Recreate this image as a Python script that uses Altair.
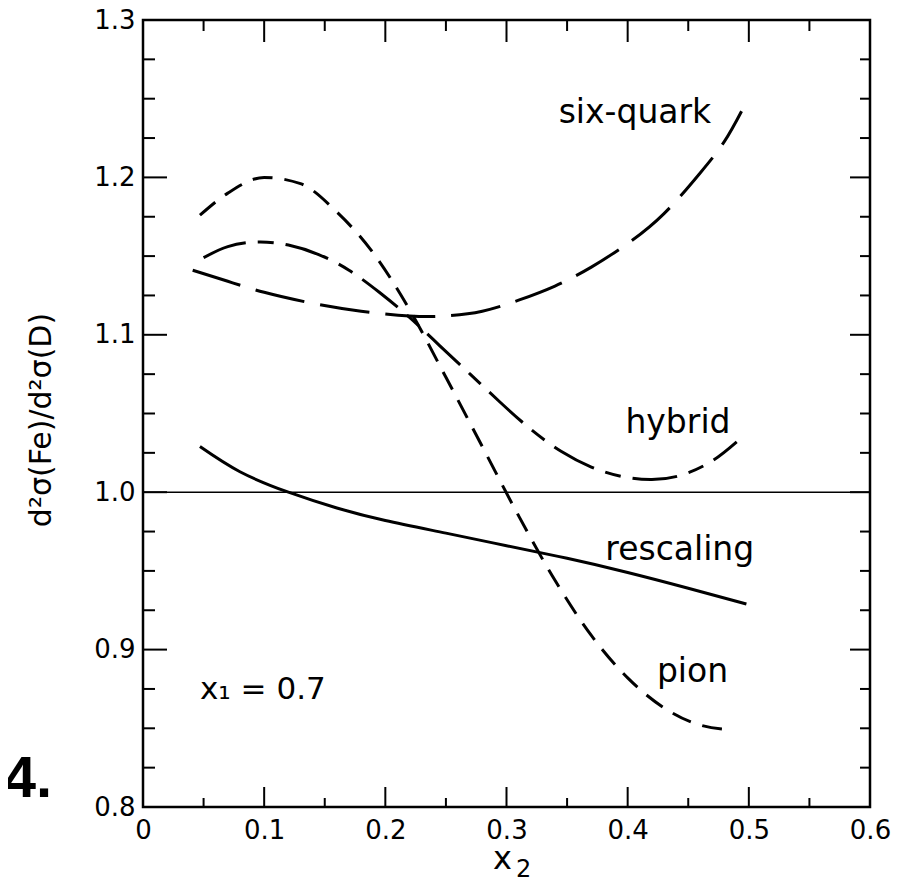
import altair as alt
import pandas as pd

# ---- data ----
six_x = [0.041, 0.07, 0.10, 0.14, 0.18, 0.22, 0.25, 0.28, 0.31, 0.34, 0.37, 0.40, 0.43, 0.46, 0.48, 0.494]
six_y = [1.141, 1.134, 1.127, 1.120, 1.115, 1.112, 1.112, 1.115, 1.122, 1.131, 1.143, 1.158, 1.177, 1.203, 1.223, 1.242]

hyb_x = [0.05, 0.07, 0.095, 0.12, 0.145, 0.17, 0.195, 0.22, 0.245, 0.27, 0.295, 0.32, 0.345, 0.37, 0.395, 0.42, 0.445, 0.47, 0.49]
hyb_y = [1.149, 1.156, 1.159, 1.157, 1.151, 1.141, 1.127, 1.111, 1.093, 1.075, 1.057, 1.040, 1.026, 1.016, 1.010, 1.008, 1.011, 1.020, 1.032]

pion_x = [0.047, 0.07, 0.10, 0.13, 0.16, 0.19, 0.22, 0.25, 0.28, 0.31, 0.34, 0.37, 0.40, 0.43, 0.46, 0.487]
pion_y = [1.176, 1.190, 1.200, 1.196, 1.178, 1.152, 1.116, 1.073, 1.029, 0.985, 0.944, 0.909, 0.882, 0.863, 0.852, 0.849]

resc_x = [0.047, 0.08, 0.12, 0.16, 0.20, 0.25, 0.30, 0.35, 0.40, 0.45, 0.498]
resc_y = [1.029, 1.013, 1.000, 0.990, 0.982, 0.974, 0.966, 0.958, 0.949, 0.939, 0.929]

reference_line = [1.0]

x_label_vals = [0, 0.1, 0.2, 0.3, 0.4, 0.5, 0.6]
x_minor_vals = [0.05, 0.15, 0.25, 0.35, 0.45, 0.55]
y_label_vals = [0.8, 0.9, 1.0, 1.1, 1.2, 1.3]
y_minor_vals = [0.825, 0.85, 0.875, 0.925, 0.95, 0.975, 1.025, 1.05, 1.075,
                1.125, 1.15, 1.175, 1.225, 1.25, 1.275]

curve_labels = ["six-quark", "hybrid", "rescaling", "pion"]
curve_label_x = [0.406, 0.4415, 0.443, 0.4535]
curve_label_y = [1.2346, 1.0376, 0.957, 0.8794]

# ---- layout ----
W, H = 727, 787
FONT = "DejaVu Sans"
xs = alt.Scale(domain=[0, 0.6], nice=False, zero=False)
ys = alt.Scale(domain=[0.8, 1.3], nice=False, zero=False)

x_axis = alt.Axis(values=x_label_vals,
                  labelExpr="datum.value == 0 ? '0' : format(datum.value, '.1f')",
                  ticks=False, domain=False, grid=False, labelFontSize=26, labelFont=FONT,
                  labelColor="black", labelPadding=10, labelFlush=False, labelOverlap=False,
                  title=None)
y_axis = alt.Axis(values=y_label_vals, format=".1f", ticks=False, domain=False, grid=False,
                  labelFontSize=26, labelFont=FONT, labelColor="black", labelPadding=8,
                  labelOverlap=False, title=None)


def X(field="x"):
    return alt.X(f"{field}:Q", scale=xs, axis=x_axis)


def Y(field="y"):
    return alt.Y(f"{field}:Q", scale=ys, axis=y_axis)


def curve(xv, yv, dash=None, interp="natural"):
    df = pd.DataFrame({"x": xv, "y": yv})
    kw = dict(color="black", strokeWidth=3, interpolate=interp)
    if dash:
        kw["strokeDash"] = dash
    return alt.Chart(df).mark_line(**kw).encode(x=X(), y=Y())


layers = []
layers.append(curve(six_x, six_y, [50, 16]))
layers.append(curve(hyb_x, hyb_y, [45, 12, 16, 12]))
layers.append(curve(pion_x, pion_y, [20, 12], interp="monotone"))
layers.append(curve(resc_x, resc_y))

layers.append(alt.Chart(pd.DataFrame({"y": reference_line})).mark_rule(
    color="black", strokeWidth=1.5).encode(y=Y()))

# inward ticks
tk = dict(color="black", strokeWidth=2)
layers.append(alt.Chart(pd.DataFrame({"x": x_label_vals})).mark_rule(**tk).encode(
    x=X(), y=alt.value(H), y2=alt.value(H - 20)))
layers.append(alt.Chart(pd.DataFrame({"x": x_minor_vals})).mark_rule(**tk).encode(
    x=X(), y=alt.value(H), y2=alt.value(H - 9)))
layers.append(alt.Chart(pd.DataFrame({"x": x_label_vals})).mark_rule(**tk).encode(
    x=X(), y=alt.value(0), y2=alt.value(22)))
layers.append(alt.Chart(pd.DataFrame({"x": x_minor_vals})).mark_rule(**tk).encode(
    x=X(), y=alt.value(0), y2=alt.value(11)))
layers.append(alt.Chart(pd.DataFrame({"y": y_label_vals})).mark_rule(**tk).encode(
    y=Y(), x=alt.value(0), x2=alt.value(24)))
layers.append(alt.Chart(pd.DataFrame({"y": y_minor_vals})).mark_rule(**tk).encode(
    y=Y(), x=alt.value(0), x2=alt.value(12)))
layers.append(alt.Chart(pd.DataFrame({"y": y_label_vals})).mark_rule(**tk).encode(
    y=Y(), x=alt.value(W), x2=alt.value(W - 20)))
layers.append(alt.Chart(pd.DataFrame({"y": y_minor_vals})).mark_rule(**tk).encode(
    y=Y(), x=alt.value(W), x2=alt.value(W - 10)))

# curve labels
lab_df = pd.DataFrame({"label": curve_labels, "x": curve_label_x, "y": curve_label_y})
layers.append(alt.Chart(lab_df).mark_text(font=FONT, fontSize=33, color="black",
                                          align="center", baseline="alphabetic").encode(
    x=X(), y=Y(), text="label:N"))

layers.append(alt.Chart(pd.DataFrame({"label": ["x\u2081 = 0.7"], "x": [0.047], "y": [0.8686]}))
              .mark_text(font=FONT, fontSize=31, color="black", align="left",
                         baseline="alphabetic").encode(x=X(), y=Y(), text="label:N"))

# titles and figure number
layers.append(alt.Chart(pd.DataFrame({"t": ["x"]})).mark_text(
    font=FONT, fontSize=32, color="black", align="right", baseline="alphabetic").encode(
    text="t:N", x=alt.value(369), y=alt.value(849)))
layers.append(alt.Chart(pd.DataFrame({"t": ["2"]})).mark_text(
    font=FONT, fontSize=24, color="black", align="left", baseline="alphabetic").encode(
    text="t:N", x=alt.value(373), y=alt.value(857)))
layers.append(alt.Chart(pd.DataFrame({"t": ["d\u00b2\u03c3(Fe)/d\u00b2\u03c3(D)"]})).mark_text(
    font=FONT, fontSize=30, color="black", align="center", baseline="middle", angle=270).encode(
    text="t:N", x=alt.value(-101), y=alt.value(400)))
layers.append(alt.Chart(pd.DataFrame({"t": ["4."]})).mark_text(
    font="Liberation Sans Narrow, Liberation Sans", fontSize=58, fontWeight="bold",
    color="black", align="right", baseline="alphabetic").encode(
    text="t:N", x=alt.value(-91), y=alt.value(777)))

chart = alt.layer(*layers).properties(
    width=W, height=H,
    autosize=alt.AutoSizeParams(type="none"),
    padding={"left": 135, "top": 12, "right": 30, "bottom": 73},
    background="white",
).configure_view(stroke="black", strokeWidth=2.5)

chart.save("out.html", embed_options={"renderer": "svg", "actions": False})
